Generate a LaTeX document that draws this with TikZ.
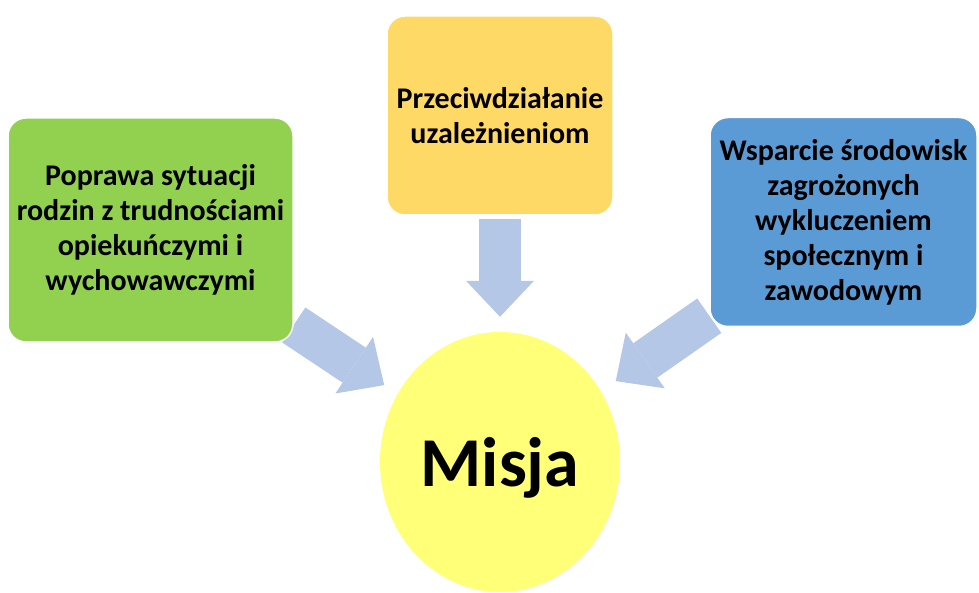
\documentclass[tikz,border=0pt]{standalone}
\usepackage{fontspec}
\setmainfont{Carlito}
\usepackage{tikz}
\usetikzlibrary{shapes.geometric, arrows.meta, backgrounds, positioning}
\definecolor{goalgreen}{HTML}{92D050}
\definecolor{goalgold}{HTML}{FFD966}
\definecolor{goalblue}{HTML}{5B9BD5}
\definecolor{missionyellow}{HTML}{FFFF78}
\definecolor{arrowblue}{HTML}{B4C7E7}
\tikzstyle{goal} = [rectangle, rounded corners=18pt, text centered, align=center, draw=white, line width=1.5pt, font=\bfseries\fontsize{30}{35}\selectfont]
\tikzstyle{mission} = [ellipse, minimum width=240pt, minimum height=260pt, inner sep=0pt, text depth=0pt, fill=missionyellow, font=\bfseries\fontsize{70}{84}\selectfont]
\tikzstyle{bigarrow} = [line width=42pt, draw=arrowblue, -{Triangle[length=36pt,width=68pt,line width=0pt]}]

\begin{document}
\begin{tikzpicture}[node distance=240pt]
        \useasboundingbox (0,0) rectangle (979pt,592pt);
        \node (misja) [mission] at (500pt,130pt) {Misja};
        \node (rodziny) [goal, fill=goalgreen, minimum width=285pt, minimum height=224pt, above of=misja, xshift=-349.5pt, yshift=-8pt] {Poprawa sytuacji\\rodzin z trudnościami\\opiekuńczymi i\\wychowawczymi};
        \node (uzaleznienia) [goal, fill=goalgold, minimum width=226pt, minimum height=199pt, above of=misja, yshift=106.5pt] {Przeciwdziałanie\\uzależnieniom};
        \node (wykluczenie) [goal, fill=goalblue, minimum width=267pt, minimum height=209pt, above of=misja, xshift=343.5pt] {Wsparcie środowisk\\zagrożonych\\wykluczeniem\\społecznym i\\zawodowym};

        \begin{scope}[on background layer]
        \draw [bigarrow, shorten >=16pt] (rodziny) -- (misja);
        \draw [bigarrow, shorten <=3pt, shorten >=15pt] (uzaleznienia) -- (misja);
        \draw [bigarrow, shorten >=18pt] (wykluczenie) -- (misja);
        \end{scope}
    \end{tikzpicture}
\end{document}
